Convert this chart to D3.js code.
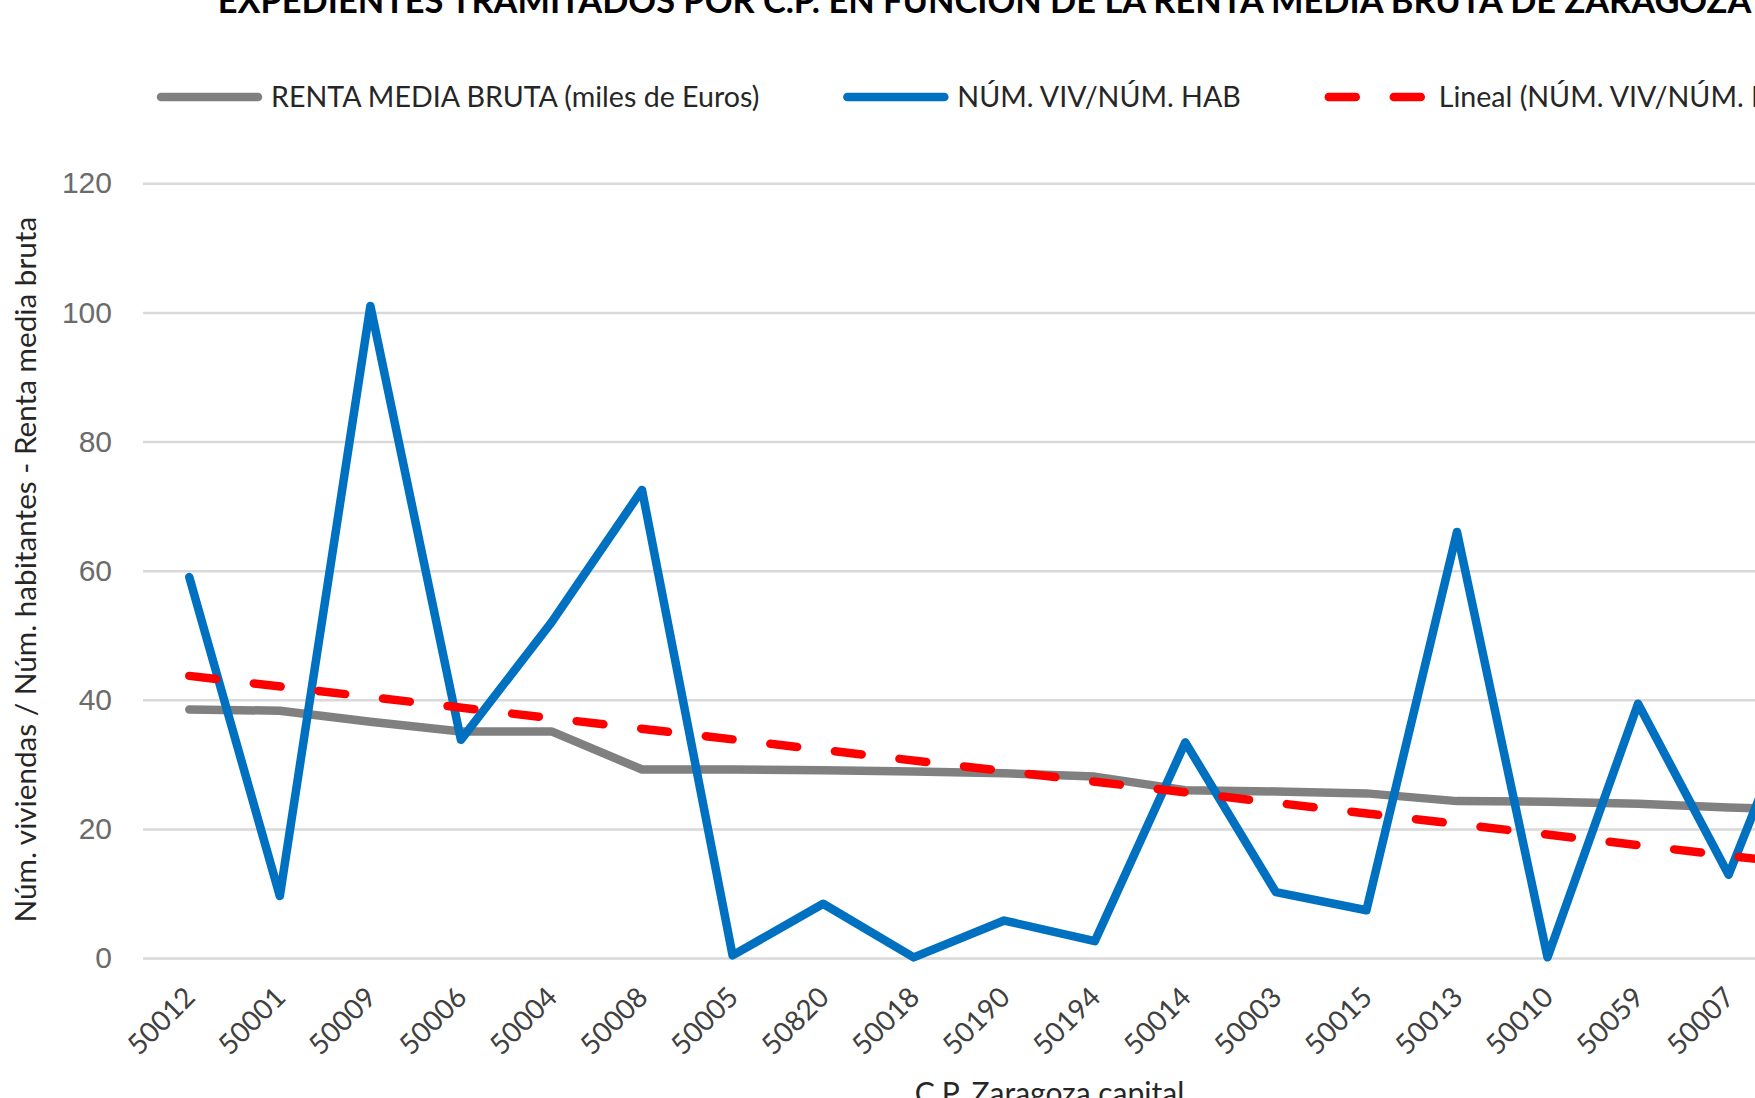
<!DOCTYPE html>
<html>
<head>
<meta charset="utf-8">
<script src="https://cdn.jsdelivr.net/npm/d3@7"></script>
<style>
  html, body { margin: 0; padding: 0; background: #fff; overflow: hidden; }
  svg { display: block; }
  .cat text, .leg text, .ttl { font-family: Lato, "Open Sans", sans-serif; }
</style>
</head>
<body>
<svg id="chart"></svg>
<script>
// postal codes shown on the x axis (the chart keeps going past the right edge)
var categories = ["50012", "50001", "50009", "50006", "50004", "50008", "50005", "50820", "50018",
                  "50190", "50194", "50014", "50003", "50015", "50013", "50010", "50059", "50007"];
// last value of each series is the point just beyond the frame
var renta = [38.5, 38.3, 36.6, 35.1, 35.1, 29.2, 29.2, 29.1, 28.9, 28.6, 28.1, 26.0, 25.8, 25.5, 24.3, 24.2, 23.9, 23.3, 23.0];
var vivHab = [59.0, 9.6, 101.0, 33.8, 52.0, 72.5, 0.4, 8.4, 0.1, 5.8, 2.6, 33.4, 10.2, 7.4, 66.0, 0.1, 39.4, 12.9, 48.0];
var trendEnds = [43.7, 14.2]; // linear trend at first and last point
var yTicks = [0, 20, 40, 60, 80, 100, 120];
var legendItems = [
  {label: "RENTA MEDIA BRUTA (miles de Euros)", color: "#808080", dash: null},
  {label: "NÚM. VIV/NÚM. HAB", color: "#0070C0", dash: null},
  {label: "Lineal (NÚM. VIV/NÚM. HAB)", color: "#FF0000", dash: "27,38"}
];

var W = 1755, H = 1098;
var slots = 20;          // category slots of the whole plot area
var plotLeft = 144, step = 90.55;
var plotTop = 183.3, plotBottom = 958;

var svg = d3.select("#chart").attr("width", W).attr("height", H);

var x = d3.scaleLinear().domain([-0.5, slots - 0.5]).range([plotLeft, plotLeft + slots * step]);
var y = d3.scaleLinear().domain([0, 120]).range([plotBottom, plotTop]);
var plotW = slots * step;

/* gridlines + y labels */
var yAxis = d3.axisLeft(y).tickValues(yTicks).tickSize(-plotW).tickPadding(31);
var gy = svg.append("g").attr("transform", `translate(${plotLeft - 1},0)`).call(yAxis);
gy.select(".domain").remove();
gy.selectAll("line").attr("stroke", "#d9d9d9").attr("stroke-width", 2.5);
gy.selectAll("text")
  .attr("font-family", "'Liberation Sans', Arial, sans-serif")
  .attr("font-size", 30).attr("fill", "#6b6b6b");

/* x labels */
var xAxis = d3.axisBottom(x).tickValues(d3.range(categories.length))
  .tickFormat(i => categories[i]).tickSize(0);
var gx = svg.append("g").attr("class", "cat").attr("transform", `translate(0,${plotBottom})`).call(xAxis);
gx.select(".domain").remove();
gx.selectAll("text")
  .attr("font-size", 28).attr("fill", "#404040")
  .attr("text-anchor", "end")
  .attr("y", 0).attr("dy", null)
  .attr("transform", "translate(7,41) rotate(-45)");

/* series */
var line = d3.line().x((d, i) => x(i)).y(d => y(d));

svg.append("path").datum(renta)
  .attr("d", line).attr("fill", "none")
  .attr("stroke", "#808080").attr("stroke-width", 8.5)
  .attr("stroke-linejoin", "round").attr("stroke-linecap", "round");

svg.append("path").datum(vivHab)
  .attr("d", line).attr("fill", "none")
  .attr("stroke", "#0070C0").attr("stroke-width", 8.5)
  .attr("stroke-linejoin", "round").attr("stroke-linecap", "round");

var trend = d3.line().x(d => x(d[0])).y(d => y(d[1]));
svg.append("path").datum([[0, trendEnds[0]], [vivHab.length - 1, trendEnds[1]]])
  .attr("d", trend).attr("fill", "none")
  .attr("stroke", "#FF0000").attr("stroke-width", 8.5)
  .attr("stroke-dasharray", "27,38").attr("stroke-linecap", "round");

/* title (cut off at the top in the original) */
svg.append("text").attr("class", "ttl")
  .attr("x", plotLeft + plotW / 2 - 65).attr("y", 13)
  .attr("text-anchor", "middle")
  .attr("font-size", 34.4).attr("font-weight", 700).attr("fill", "#000")
  .text("EXPEDIENTES TRAMITADOS POR C.P. EN FUNCIÓN DE LA RENTA MEDIA BRUTA DE ZARAGOZA");

/* legend */
var leg = svg.append("g").attr("class", "leg").attr("transform", "translate(157,97)");
var lx = 0;
legendItems.forEach(function(item) {
  leg.append("line")
    .attr("x1", lx + 4).attr("x2", lx + 101).attr("y1", 0).attr("y2", 0)
    .attr("stroke", item.color).attr("stroke-width", 8.5)
    .attr("stroke-linecap", "round")
    .attr("stroke-dasharray", item.dash);
  var t = leg.append("text")
    .attr("x", lx + 114).attr("y", 0).attr("dy", "0.35em")
    .attr("font-size", 28.6).attr("fill", "#262626")
    .text(item.label);
  lx += 114 + t.node().getComputedTextLength() + 84;
});

/* axis titles */
svg.append("text").attr("class", "ttl")
  .attr("x", plotLeft + plotW / 2).attr("y", 1104)
  .attr("text-anchor", "middle").attr("font-size", 30).attr("fill", "#262626")
  .text("C.P. Zaragoza capital");

svg.append("text").attr("class", "ttl")
  .attr("transform", `translate(36,${(plotTop + plotBottom) / 2 - 1}) rotate(-90)`)
  .attr("text-anchor", "middle").attr("font-size", 29.7).attr("fill", "#262626")
  .text("Núm. viviendas / Núm. habitantes - Renta media bruta");
</script>
</body>
</html>
